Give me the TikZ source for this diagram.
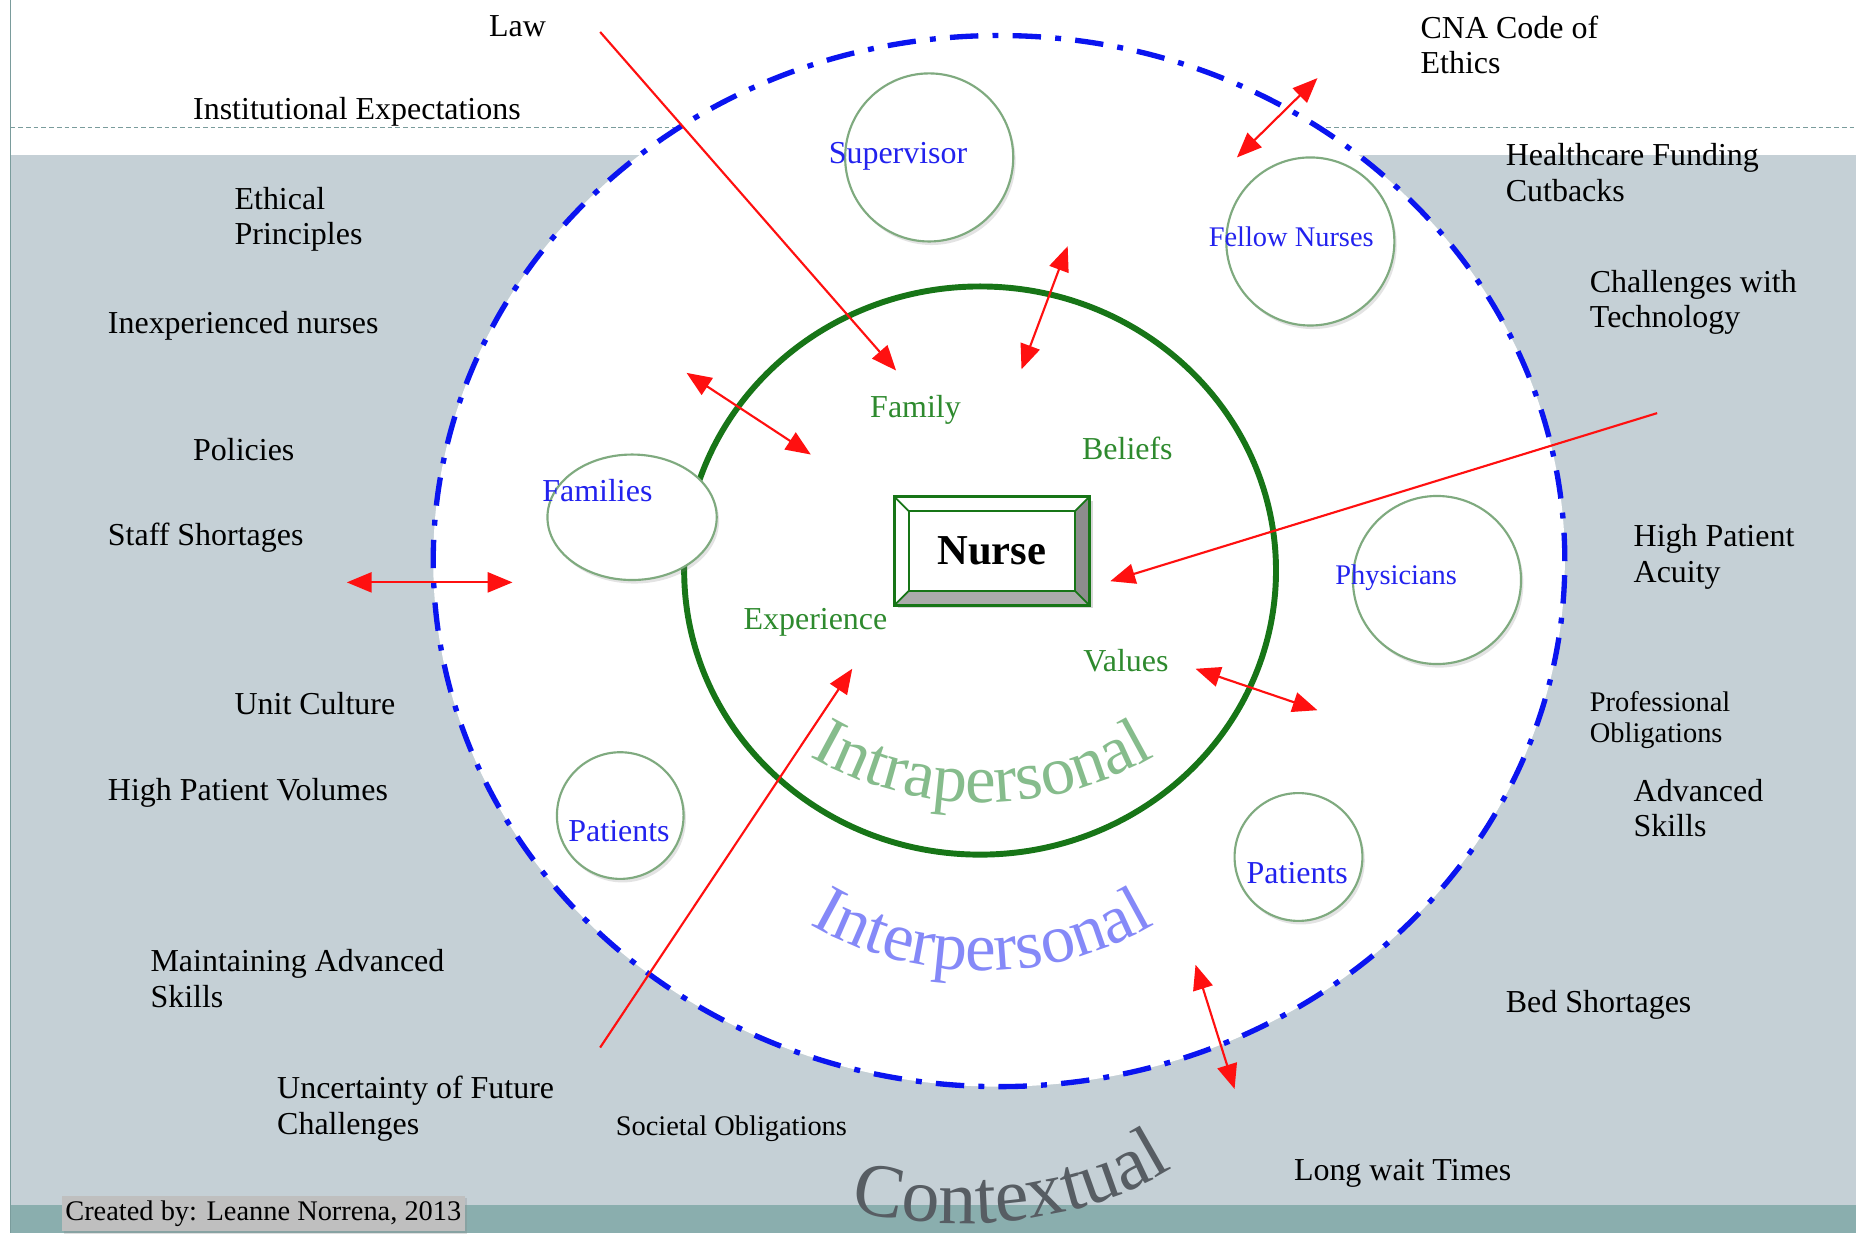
\documentclass[tikz,border=0pt]{standalone}
\usepackage{fontspec}
\setmainfont{Liberation Serif}
\usetikzlibrary{arrows.meta,shadows,decorations.text,calc,shapes.geometric}
\definecolor{bggray}{HTML}{C5D0D6}
\definecolor{bandteal}{HTML}{8AAEAE}
\definecolor{edgeteal}{HTML}{7A9C9C}
\definecolor{ddblue}{HTML}{0A14F0}
\definecolor{ringgreen}{HTML}{177517}
\definecolor{circgreen}{HTML}{7FAA7F}
\definecolor{lblblue}{HTML}{2222EE}
\definecolor{lblgreen}{HTML}{2E8A2E}
\definecolor{intragreen}{HTML}{86BC8C}
\definecolor{interblue}{HTML}{8589F8}
\definecolor{ctxgray}{HTML}{575D63}
\definecolor{arrred}{HTML}{FF1010}
\newcommand\lblfont{\fontsize{27}{30}\selectfont}
\newcommand\smlfont{\fontsize{24}{26}\selectfont}
\begin{document}
\begin{tikzpicture}[x=1pt,y=1pt,
  lbl/.style={font=\lblfont, text=black, inner sep=0pt, align=left},
  sml/.style={font=\smlfont, text=black, inner sep=0pt, align=left},
  bluelbl/.style={font=\lblfont, text=lblblue, inner sep=0pt, anchor=base west},
  greenlbl/.style={font=\lblfont, text=lblgreen, inner sep=0pt, anchor=base west},
  smallc/.style={circle, draw=circgreen, line width=1.8pt, fill=white, inner sep=0pt,
     drop shadow={opacity=0.22, shadow xshift=2pt, shadow yshift=-3pt}},
  redarr/.style={draw=arrred, line width=1.8pt, -{Triangle[length=21pt,width=17pt]}},
  redbi/.style={draw=arrred, line width=1.8pt, {Triangle[length=21pt,width=17pt]}-{Triangle[length=21pt,width=17pt]}},
]
\useasboundingbox (0,0) rectangle (1568,-1042);
% background
\fill[white] (0,0) rectangle (1568,-1042);
\fill[bggray] (9,-131) rectangle (1568,-1018);
\fill[bandteal] (9,-1018) rectangle (1568,-1042);
\draw[edgeteal, line width=1.2pt] (9,0) -- (9,-1042);
\draw[edgeteal, line width=0.9pt, dash pattern=on 4pt off 2.5pt] (9,-108) -- (1568,-108);
% outer ellipse
\node[ellipse, draw=ddblue, fill=white, line width=4.5pt, inner sep=0pt,
      minimum width=956, minimum height=888,
      dash pattern=on 24pt off 12pt on 5pt off 12pt] (outer) at (844,-474) {};
% inner ring
\node[ellipse, draw=ringgreen, line width=5pt, inner sep=0pt,
      minimum width=500, minimum height=480] (ring) at (828,-482) {};
% small circles
\node[smallc, minimum size=142] (supC) at (785,-133) {};
\node[smallc, minimum size=142] (felC) at (1107,-204) {};
\node[smallc, ellipse, minimum width=143, minimum height=106] (famC) at (534,-437) {};
\node[smallc, minimum size=142] (phyC) at (1214,-490) {};
\node[smallc, minimum size=107] (patLC) at (524,-689) {};
\node[smallc, minimum size=108] (patRC) at (1097,-724) {};
% circle labels
\node[bluelbl] (supL) at (700,-138) {Supervisor};
\node[bluelbl, font=\smlfont] (felL) at (1021,-208) {Fellow Nurses};
\node[bluelbl] (famL) at (458,-424) {Families};
\node[bluelbl, font=\smlfont] (phyL) at (1128,-494) {Physicians};
\node[bluelbl] (patLL) at (480,-711) {Patients};
\node[bluelbl] (patRL) at (1053,-746) {Patients};
% green labels
\node[greenlbl] (famyL) at (735,-353) {Family};
\node[greenlbl] (belL) at (914,-388) {Beliefs};
\node[greenlbl] (expL) at (628,-532) {Experience};
\node[greenlbl] (valL) at (915,-567) {Values};
% Nurse box
\node[minimum width=164, minimum height=91, inner sep=0pt, fill=white,
      drop shadow={opacity=0.3, shadow xshift=3pt, shadow yshift=-3pt}] (nurse) at (838,-465.5) {};
\fill[white] (nurse.north west) -- (nurse.north east) -- ($(nurse.north east)+(-12,-12)$) -- ($(nurse.north west)+(12,-12)$) -- cycle;
\fill[white] (nurse.north west) -- ($(nurse.north west)+(12,-12)$) -- ($(nurse.south west)+(12,12)$) -- (nurse.south west) -- cycle;
\fill[black!45] (nurse.north east) -- (nurse.south east) -- ($(nurse.south east)+(-12,12)$) -- ($(nurse.north east)+(-12,-12)$) -- cycle;
\fill[black!33] (nurse.south west) -- (nurse.south east) -- ($(nurse.south east)+(-12,12)$) -- ($(nurse.south west)+(12,12)$) -- cycle;
\draw[ringgreen, line width=2.4pt] (nurse.north west) rectangle (nurse.south east);
\draw[ringgreen, line width=2pt] ($(nurse.north west)+(12,-12)$) rectangle ($(nurse.south east)+(-12,12)$);
\draw[ringgreen, line width=1.5pt] (nurse.north west) -- ++(12,-12) (nurse.north east) -- ++(-12,-12)
   (nurse.south east) -- ++(-12,12) (nurse.south west) -- ++(12,12);
\node[font=\bfseries\fontsize{36}{36}\selectfont, inner sep=0pt] (nurseT) at (nurse.center) {Nurse};
% outside labels
\node[lbl, anchor=base west] (law) at (413,-31) {Law};
\node[lbl, anchor=base west] (inst) at (163,-101) {Institutional Expectations};
\node[lbl, anchor=north west] (eth) at (198,-158) {Ethical\\Principles};
\node[lbl, anchor=base west] (inex) at (91,-282) {Inexperienced nurses};
\node[lbl, anchor=base west] (pol) at (163,-389) {Policies};
\node[lbl, anchor=base west] (staff) at (91,-461) {Staff Shortages};
\node[lbl, anchor=base west] (unit) at (198,-604) {Unit Culture};
\node[lbl, anchor=base west] (hpv) at (91,-676) {High Patient Volumes};
\node[lbl, anchor=north west] (mas) at (127,-802) {Maintaining Advanced\\Skills};
\node[lbl, anchor=north west] (unc) at (234,-909) {Uncertainty of Future\\Challenges};
\node[sml, anchor=base west] (soc) at (520,-959) {Societal Obligations};
\node[sml, anchor=base west, fill=black!25, inner xsep=3pt, inner ysep=4pt,
      drop shadow={opacity=0.25, shadow xshift=2pt, shadow yshift=-2pt}] (cred) at (52,-1031) {Created by: Leanne Norrena, 2013};
\node[lbl, anchor=base west] (lwt) at (1093,-997) {Long wait Times};
\node[lbl, anchor=base west] (bed) at (1272,-855) {Bed Shortages};
\node[lbl, anchor=north west] (adv) at (1380,-658) {Advanced\\Skills};
\node[sml, anchor=north west] (prof) at (1343,-584) {Professional\\Obligations};
\node[lbl, anchor=north west] (hpa) at (1380,-443) {High Patient\\Acuity};
\node[lbl, anchor=north west] (cwt) at (1343,-228) {Challenges with\\Technology};
\node[lbl, anchor=north west] (hfc) at (1272,-121) {Healthcare Funding\\Cutbacks};
\node[lbl, anchor=north west] (cna) at (1200,-13) {CNA Code of\\Ethics};
% curved titles
\path[decorate, decoration={text along path, text align=center,
   text={|\fontsize{58}{58}\selectfont\color{intragreen}|Intrapersonal}}]
   ([shift={(205:290)}]830,-388) arc[start angle=205, end angle=335, radius=290];
\path[decorate, decoration={text along path, text align=center,
   text={|\fontsize{58}{58}\selectfont\color{interblue}|Interpersonal}}]
   ([shift={(205:290)}]830,-530) arc[start angle=205, end angle=335, radius=290];
\path[decorate, decoration={text along path, text align=left,
   text={|\fontsize{64}{64}\selectfont\color{ctxgray}|Contextual}}]
   (719,-1023) .. controls (800,-1041) and (910,-1041) .. (1000,-981);
% red arrows
\coordinate (a1s) at (507,-27);   \coordinate (a1e) at (757,-313);
\coordinate (a2s) at (580,-315);  \coordinate (a2e) at (685,-384);
\coordinate (a3s) at (902,-208);  \coordinate (a3e) at (863,-312);
\coordinate (a4s) at (1113,-66);  \coordinate (a4e) at (1045,-133);
\coordinate (a5s) at (1400,-349); \coordinate (a5e) at (938,-491);
\coordinate (a6s) at (293,-492);  \coordinate (a6e) at (433,-492);
\coordinate (a7s) at (1010,-565); \coordinate (a7e) at (1113,-600);
\coordinate (a8s) at (507,-885);  \coordinate (a8e) at (720,-565);
\coordinate (a9s) at (1010,-815); \coordinate (a9e) at (1043,-920);
\draw[redarr] (a1s) -- (a1e);
\draw[redbi] (a2s) -- (a2e);
\draw[redbi] (a3s) -- (a3e);
\draw[redbi] (a4s) -- (a4e);
\draw[redarr] (a5s) -- (a5e);
\draw[redbi] (a6s) -- (a6e);
\draw[redbi] (a7s) -- (a7e);
\draw[redarr] (a8s) -- (a8e);
\draw[redbi] (a9s) -- (a9e);
\end{tikzpicture}
\end{document}
